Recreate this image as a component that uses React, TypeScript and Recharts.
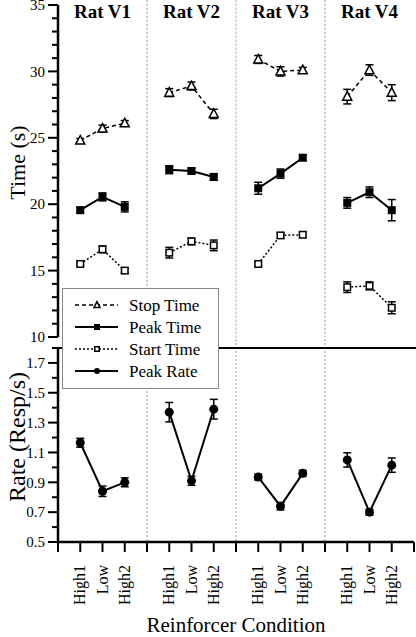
import { LineChart, Line, XAxis, YAxis, ErrorBar, ReferenceLine, ReferenceDot } from 'recharts';

const FONT = '"Liberation Serif", "Times New Roman", serif';

const rats = ['Rat V1', 'Rat V2', 'Rat V3', 'Rat V4'];
const conditions = ['High1', 'Low', 'High2'];

// per point: V1 High1, Low, High2, V2 ..., V3 ..., V4 ...
const stopTime = [24.8, 25.7, 26.1, 28.4, 28.9, 26.8, 30.9, 30.0, 30.1, 28.1, 30.1, 28.4];
const stopErr = [0.15, 0.25, 0.2, 0.3, 0.3, 0.35, 0.3, 0.35, 0.2, 0.55, 0.4, 0.6];
const peakTime = [19.55, 20.55, 19.8, 22.6, 22.5, 22.05, 21.2, 22.3, 23.5, 20.1, 20.9, 19.55];
const peakTimeErr = [0.2, 0.3, 0.38, 0.3, 0.2, 0.25, 0.45, 0.35, 0.2, 0.4, 0.4, 0.8];
const startTime = [15.5, 16.6, 15.0, 16.35, 17.2, 16.9, 15.5, 17.65, 17.7, 13.75, 13.85, 12.2];
const startErr = [0.15, 0.25, 0.2, 0.4, 0.25, 0.4, 0.15, 0.2, 0.2, 0.4, 0.3, 0.45];
const peakRate = [1.165, 0.84, 0.9, 1.37, 0.91, 1.39, 0.935, 0.74, 0.96, 1.05, 0.7, 1.015];
const peakRateErr = [0.03, 0.035, 0.03, 0.065, 0.03, 0.066, 0.02, 0.025, 0.02, 0.048, 0.02, 0.048];

const timeTicks = [10, 11, 12, 13, 14, 15, 16, 17, 18, 19, 20, 21, 22, 23, 24, 25, 26, 27, 28, 29, 30, 31, 32, 33, 34, 35];
const timeMajor = [10, 15, 20, 25, 30, 35];
const rateTicks = [0.5, 0.6, 0.7, 0.8, 0.9, 1.0, 1.1, 1.2, 1.3, 1.4, 1.5, 1.6, 1.7, 1.8];
const rateMajor = [0.5, 0.7, 0.9, 1.1, 1.3, 1.5, 1.7];
const xTicks = [0, 1, 2, 3, 4, 5, 6, 7, 8, 9, 10, 11, 12, 13, 14, 15, 16];
const dividers = [4, 8, 12];

// x slot of each point: 3 conditions per rat, one empty slot between rats
const positions = stopTime.map((_, i) => Math.floor(i / 3) * 4 + (i % 3) + 1);

const rows: any[] = [];
positions.forEach((x, i) => {
  rows.push({
    x,
    stop: stopTime[i], stopErr: stopErr[i],
    peakT: peakTime[i], peakTErr: peakTimeErr[i],
    start: startTime[i], startErr: startErr[i],
    rate: peakRate[i], rateErr: peakRateErr[i],
  });
  if (i % 3 === 2 && i < positions.length - 1) {
    rows.push({ x: x + 1, stop: null, peakT: null, start: null, rate: null });
  }
});

type Kind = 'triangle' | 'fsquare' | 'osquare' | 'circle';

function Marker({ kind, cx, cy, s }: { kind: Kind; cx: number; cy: number; s: number }) {
  if (kind === 'triangle') {
    const pts = `${cx},${cy - s * 0.55} ${cx - s / 2},${cy + s * 0.4} ${cx + s / 2},${cy + s * 0.4}`;
    return <polygon points={pts} fill="#fff" stroke="#000" strokeWidth={1.5} />;
  }
  if (kind === 'fsquare') return <rect x={cx - s / 2} y={cy - s / 2} width={s} height={s} fill="#000" />;
  if (kind === 'osquare')
    return <rect x={cx - s / 2 + 0.75} y={cy - s / 2 + 0.75} width={s - 1.5} height={s - 1.5} fill="#fff" stroke="#000" strokeWidth={1.5} />;
  return <circle cx={cx} cy={cy} r={s / 2} fill="#000" />;
}

const dotFor = (kind: Kind, s: number) => (p: any) =>
  p.cy == null || p.cx == null ? <g key={p.index} /> : (
    <g key={p.index}>
      <Marker kind={kind} cx={p.cx} cy={p.cy} s={s} />
    </g>
  );

const series = [
  { name: 'Stop Time', kind: 'triangle' as Kind, dash: '4 3', width: 1.5 },
  { name: 'Peak Time', kind: 'fsquare' as Kind, dash: undefined, width: 2 },
  { name: 'Start Time', kind: 'osquare' as Kind, dash: '2 2', width: 1.5 },
  { name: 'Peak Rate', kind: 'circle' as Kind, dash: undefined, width: 2 },
];

function YTick({ x, y, payload, majors }: any) {
  const v = payload.value;
  const major = majors.includes(v);
  return (
    <g>
      <line x1={x - (major ? 10 : 6)} x2={x} y1={y} y2={y} stroke="#000" strokeWidth={2} />
      {major && (
        <text x={x - 13} y={y} dy="0.35em" textAnchor="end" fontSize={15} fontFamily={FONT} fill="#000">
          {Number.isInteger(v) ? v : v.toFixed(1)}
        </text>
      )}
    </g>
  );
}

function XTick({ x, y, payload }: any) {
  const idx = positions.indexOf(payload.value);
  const label = idx >= 0 ? conditions[idx % 3] : null;
  const tx = x + 5;
  const ty = y + 23;
  return (
    <g>
      <line x1={x} x2={x} y1={y} y2={y + 10} stroke="#000" strokeWidth={2} />
      {label && (
        <text x={tx} y={ty} transform={`rotate(-90 ${tx} ${ty})`} textAnchor="end" fontSize={16} fontFamily={FONT} fill="#000">
          {label}
        </text>
      )}
    </g>
  );
}

function AxisTitle(props: any) {
  const vb = props.viewBox || { x: 0, y: 0, width: 0, height: 0 };
  const cx = vb.x + 17;
  const cy = vb.y + vb.height / 2 + (props.shift || 0);
  return (
    <text x={cx} y={cy} transform={`rotate(-90 ${cx} ${cy})`} textAnchor="middle" dominantBaseline="central" fontSize={props.size || 22} fontFamily={FONT} fill="#000">
      {props.text}
    </text>
  );
}

function RatTitle(props: any) {
  const vb = props.viewBox || { x: 0, y: 0, width: 0, height: 0 };
  return (
    <text x={vb.x + vb.width / 2} y={vb.y + 12.5} textAnchor="middle" fontSize={19} fontWeight="bold" fontFamily={FONT} fill="#000">
      {props.text}
    </text>
  );
}

function LegendBox() {
  return (
    <svg width={157} height={101} style={{ position: 'absolute', left: 62, top: 288, zIndex: 2 }}>
      <rect x={0.5} y={0.5} width={156} height={100} fill="#fff" stroke="#888" strokeWidth={1} />
      {series.map((s, i) => {
        const y = 17 + i * 22;
        return (
          <g key={s.name}>
            <line x1={13} x2={56} y1={y} y2={y} stroke="#000" strokeWidth={s.width} strokeDasharray={s.dash} />
            <Marker kind={s.kind} cx={35} cy={y} s={6} />
            <text x={67} y={y} dy="0.35em" fontSize={17} fontFamily={FONT} fill="#000">
              {s.name}
            </text>
          </g>
        );
      })}
    </svg>
  );
}

export default function App() {
  return (
    <div style={{ position: 'absolute', left: 0, top: 0, width: 416, height: 637, background: '#fff' }}>
      <div style={{ position: 'absolute', left: 0, top: 340 }}>
        <LineChart width={416} height={297} data={rows} margin={{ top: 8, right: 2, left: 0, bottom: 0 }}>
          <XAxis
            dataKey="x"
            type="number"
            domain={[0, 16]}
            ticks={xTicks}
            interval={0}
            height={95}
            tickSize={0}
            tickMargin={0}
            tickLine={false}
            axisLine={{ stroke: '#000', strokeWidth: 2.5 }}
            tick={<XTick />}
            label={{ value: 'Reinforcer Condition', position: 'insideBottom', offset: 5, fontSize: 21, fontFamily: FONT, fill: '#000' }}
          />
          <YAxis
            type="number"
            domain={[0.5, 1.8]}
            ticks={rateTicks}
            interval={0}
            width={58}
            tickSize={0}
            tickMargin={0}
            tickLine={false}
            axisLine={{ stroke: '#000', strokeWidth: 2.5 }}
            tick={<YTick majors={rateMajor} />}
            label={<AxisTitle text="Rate (Resp/s)" shift={-8} size={24} />}
          />
          {dividers.map((d) => (
            <ReferenceLine key={d} segment={[{ x: d, y: 1.86 }, { x: d, y: 0.5 }]} ifOverflow="visible" stroke="#999" strokeDasharray="2 2" />
          ))}
          <ReferenceLine segment={[{ x: 0, y: 1.8 }, { x: 16.1, y: 1.8 }]} ifOverflow="visible" stroke="#000" strokeWidth={2} />
          <Line dataKey="rate" stroke="#000" strokeWidth={2} dot={dotFor('circle', 9)} activeDot={false} isAnimationActive={false}>
            <ErrorBar dataKey="rateErr" width={4} strokeWidth={1.5} stroke="#000" direction="y" />
          </Line>
        </LineChart>
      </div>
      <div style={{ position: 'absolute', left: 0, top: 0 }}>
        <LineChart width={416} height={348} data={rows} margin={{ top: 5, right: 2, left: 0, bottom: 11 }}>
          <XAxis dataKey="x" type="number" domain={[0, 16]} hide />
          <YAxis
            type="number"
            domain={[10, 35]}
            ticks={timeTicks}
            interval={0}
            width={58}
            tickSize={0}
            tickMargin={0}
            tickLine={false}
            axisLine={{ stroke: '#000', strokeWidth: 2.5 }}
            tick={<YTick majors={timeMajor} />}
            label={<AxisTitle text="Time (s)" shift={-8.5} />}
          />
          {dividers.map((d) => (
            <ReferenceLine key={d} segment={[{ x: d, y: 35.4 }, { x: d, y: 9.7 }]} ifOverflow="visible" stroke="#999" strokeDasharray="2 2" />
          ))}
          {rats.map((r, g) => (
            <ReferenceDot key={r} x={g * 4 + 2} y={35} r={0} fill="none" stroke="none" label={<RatTitle text={r} />} />
          ))}
          <Line dataKey="stop" stroke="#000" strokeWidth={1.5} strokeDasharray="4 3" dot={dotFor('triangle', 9)} activeDot={false} isAnimationActive={false}>
            <ErrorBar dataKey="stopErr" width={4} strokeWidth={1.5} stroke="#000" direction="y" />
          </Line>
          <Line dataKey="peakT" stroke="#000" strokeWidth={2} dot={dotFor('fsquare', 8)} activeDot={false} isAnimationActive={false}>
            <ErrorBar dataKey="peakTErr" width={4} strokeWidth={1.5} stroke="#000" direction="y" />
          </Line>
          <Line dataKey="start" stroke="#000" strokeWidth={1.5} strokeDasharray="2 2" dot={dotFor('osquare', 8)} activeDot={false} isAnimationActive={false}>
            <ErrorBar dataKey="startErr" width={4} strokeWidth={1.5} stroke="#000" direction="y" />
          </Line>
        </LineChart>
      </div>
      <LegendBox />
    </div>
  );
}
